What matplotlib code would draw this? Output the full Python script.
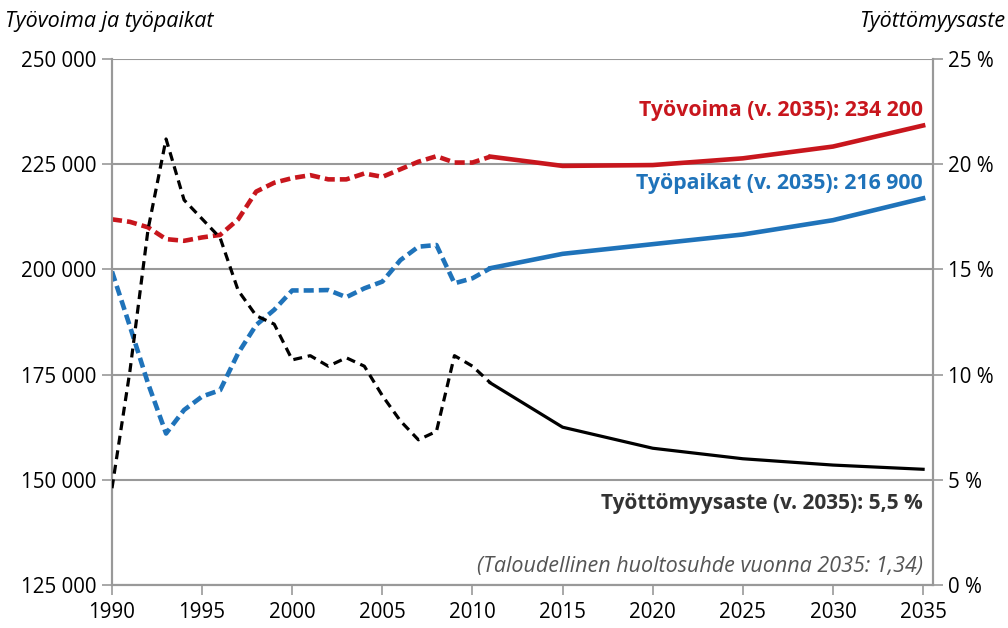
import numpy as np
import matplotlib
matplotlib.use("Agg")
import matplotlib.pyplot as plt
from matplotlib.ticker import FuncFormatter

plt.rcParams['font.family'] = ['Open Sans', 'DejaVu Sans']

# historical (dashed) 1990-2011
hist_years = list(range(1990, 2012))
hist_tyovoima = [211900, 211300, 210000, 207200, 206800, 207600, 208200, 211900,
                 218500, 220600, 221700, 222400, 221400, 221400, 222800, 222000,
                 223800, 225600, 226900, 225400, 225400, 226800]
hist_tyopaikat = [199500, 186400, 172900, 161000, 166600, 169800, 171300, 180100,
                  186800, 190400, 195000, 195000, 195100, 193400, 195500, 197100,
                  202200, 205400, 205800, 196700, 197900, 200300]
hist_tyottomyys = [4.6, 10.2, 16.9, 21.2, 18.3, 17.4, 16.5, 14.0, 12.8, 12.4, 10.7,
                   10.9, 10.4, 10.8, 10.4, 9.0, 7.8, 6.9, 7.3, 10.9, 10.4, 9.6]

# projection (solid)
proj_years = [2011, 2015, 2020, 2025, 2030, 2035]
proj_tyovoima = [226800, 224600, 224800, 226400, 229200, 234200]
proj_tyopaikat = [200300, 203700, 206000, 208300, 211700, 216900]
proj_tyottomyys = [9.6, 7.5, 6.5, 6.0, 5.7, 5.5]

x_ticks = list(range(1990, 2036, 5))
left_ticks = [125000, 150000, 175000, 200000, 225000, 250000]
right_ticks = [0, 5, 10, 15, 20, 25]

red = '#C8161D'
blue = '#1F73BA'
grid_col = '#999999'

fig = plt.figure(figsize=(10.08, 6.28), dpi=100)
ax = fig.add_axes([0.1111, 0.0685, 0.8145, 0.8375])
ax2 = ax.twinx()

ax.plot(hist_years, hist_tyovoima, color=red, lw=3.3, linestyle=(0, (2.2, 1.1)), zorder=3)
ax.plot(proj_years, proj_tyovoima, color=red, lw=3.3, zorder=3)
ax.plot(hist_years, hist_tyopaikat, color=blue, lw=3.3, linestyle=(0, (2.2, 1.1)), zorder=3)
ax.plot(proj_years, proj_tyopaikat, color=blue, lw=3.3, zorder=3)
ax2.plot(hist_years, hist_tyottomyys, color='black', lw=2.3, linestyle=(0, (2.8, 1.8)), zorder=3)
ax2.plot(proj_years, proj_tyottomyys, color='black', lw=2.3, zorder=3)

ax.set_xlim(1990, 2035.55)
ax.set_ylim(125000, 250000)
ax2.set_ylim(0, 25)
ax.set_xticks(x_ticks)
ax.set_yticks(left_ticks)
ax2.set_yticks(right_ticks)
ax.yaxis.set_major_formatter(FuncFormatter(lambda v, p: f"{int(v):,}".replace(",", " ")))
ax2.yaxis.set_major_formatter(FuncFormatter(lambda v, p: f"{int(v)} %"))

for a in (ax, ax2):
    for s in a.spines.values():
        s.set_color(grid_col)
        s.set_linewidth(1.5)
    a.spines['top'].set_visible(False)
    a.tick_params(axis='both', colors=grid_col, width=1.2, length=7, labelsize=14.8,
                  labelcolor='black', pad=4)
ax.grid(axis='y', color=grid_col, lw=1.5, zorder=0)
ax.set_axisbelow(True)
ax.tick_params(axis='x', pad=5)

fig.text(0.005, 0.965, "Työvoima ja työpaikat", style='italic', fontsize=15.5, ha='left', va='center')
fig.text(0.997, 0.965, "Työttömyysaste", style='italic', fontsize=15.5, ha='right', va='center')

ax.text(2035, 235300, "Työvoima (v. 2035): 234 200", color=red, fontweight='bold',
        fontsize=15.3, ha='right', va='bottom')
ax.text(2035, 218000, "Työpaikat (v. 2035): 216 900", color=blue, fontweight='bold',
        fontsize=15.3, ha='right', va='bottom')
ax2.text(2035, 3.85, "Työttömyysaste (v. 2035): 5,5 %", color='#333333', fontweight='bold',
         fontsize=15, ha='right', va='center')
ax2.text(2035, 0.9, "(Taloudellinen huoltosuhde vuonna 2035: 1,34)", color='#555555',
         style='italic', fontsize=15.5, ha='right', va='center')

fig.savefig("out.png", dpi=100)
